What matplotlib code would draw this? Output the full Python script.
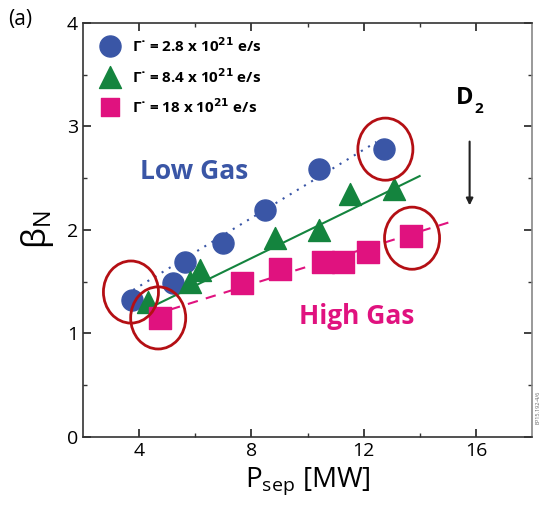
import numpy as np
import matplotlib.pyplot as plt
from matplotlib.patches import Ellipse

plt.rcParams['font.family'] = ['Open Sans', 'DejaVu Sans']

# Gamma = 2.8e21 e/s (low gas)
p_low = [3.73, 5.19, 5.63, 6.99, 8.50, 10.40, 12.71]
b_low = [1.32, 1.49, 1.69, 1.87, 2.19, 2.59, 2.78]
# Gamma = 8.4e21 e/s
p_mid = [4.32, 5.81, 6.16, 8.83, 10.41, 11.50, 13.07]
b_mid = [1.30, 1.50, 1.61, 1.92, 2.00, 2.35, 2.40]
# Gamma = 18e21 e/s (high gas)
p_high = [4.74, 7.65, 9.01, 10.55, 11.26, 12.15, 13.70]
b_high = [1.15, 1.49, 1.62, 1.69, 1.69, 1.79, 1.94]

# trend lines (end points)
fit_low_x, fit_low_y = [3.79, 12.45], [1.42, 2.85]
fit_mid_x, fit_mid_y = [4.32, 13.99], [1.24, 2.52]
fit_high_x, fit_high_y = [5.10, 15.12], [1.23, 2.08]

# highlighted points
circ_x = [3.71, 4.68, 12.77, 13.72]
circ_y = [1.40, 1.15, 2.78, 1.92]

labels = ['2.8', '8.4', '18']

blue = '#3a56a6'
green = '#14843e'
pink = '#e0127f'
dark_red = '#b40f14'

fig = plt.figure(figsize=(5.42, 5.19), dpi=100)
ax = fig.add_axes([0.153, 0.158, 0.829, 0.798])

ax.plot(fit_low_x, fit_low_y, color=blue, ls=(0, (1, 3)), lw=1.5)
ax.plot(fit_mid_x, fit_mid_y, color=green, ls='-', lw=1.5)
ax.plot(fit_high_x, fit_high_y, color=pink, ls=(0, (5, 4)), lw=1.5)

ax.scatter(p_low, b_low, s=230, marker='o', color=blue, zorder=3)
ax.scatter(p_mid, b_mid, s=250, marker='^', color=green, zorder=3)
ax.scatter(p_high, b_high, s=230, marker='s', color=pink, zorder=3)

for cx, cy in zip(circ_x, circ_y):
    ax.add_patch(Ellipse((cx, cy), 1.96, 0.60, fill=False, ec=dark_red, lw=2, zorder=4))

# legend drawn by hand
leg_y = [3.78, 3.48, 3.19]
leg_m = ['o', '^', 's']
leg_c = [blue, green, pink]
leg_s = [230, 250, 170]
for yy, m, c, s, lab in zip(leg_y, leg_m, leg_c, leg_s, labels):
    ax.scatter([2.95], [yy], marker=m, color=c, s=s, zorder=3, clip_on=False)
    ax.text(3.75, yy, '\u0393\u02d9 = ' + lab + r' x 10$^{\mathbf{21}}$ e/s',
            fontsize=11, fontweight='bold', va='center', ha='left')

ax.text(5.95, 2.56, 'Low Gas', color=blue, fontsize=19, fontweight='bold',
        ha='center', va='center')
ax.text(11.74, 1.16, 'High Gas', color=pink, fontsize=19, fontweight='bold',
        ha='center', va='center')

ax.text(15.6, 3.27, 'D', fontsize=17, fontweight='bold', ha='center', va='center')
ax.text(16.1, 3.17, '2', fontsize=11, fontweight='bold', ha='center', va='center')
ax.annotate('', xy=(15.77, 2.21), xytext=(15.77, 2.88),
            arrowprops=dict(arrowstyle='-|>', color='#222222', lw=1.5,
                            mutation_scale=10))

ax.set_xlim(2, 18)
ax.set_ylim(0, 4)
ax.set_xticks([4, 8, 12, 16])
ax.set_xticks([6, 10, 14], minor=True)
ax.set_yticks([0, 1, 2, 3, 4])
ax.set_yticks([0.5, 1.5, 2.5, 3.5], minor=True)
ax.tick_params(which='both', direction='in', top=True, right=True, labelsize=14,
               color='#333333')
ax.tick_params(which='major', length=6, width=1.3)
ax.tick_params(which='minor', length=3, width=1)
for sp in ax.spines.values():
    sp.set_color('#333333')
    sp.set_linewidth(1.2)
ax.spines['right'].set_color('#888888')

ax.set_xlabel(r'P$_{\mathregular{sep}}$ [MW]', fontsize=20, labelpad=4)
ax.set_ylabel(r'$\mathregular{\beta_N}$', fontsize=24, labelpad=8)

fig.text(0.015, 0.962, '(a)', fontsize=15, va='center')
fig.text(0.992, 0.215, 'EP15.192-4/6', fontsize=4, rotation=90, color='#666666',
         va='center', ha='center')

fig.savefig('out.png', dpi=100)
